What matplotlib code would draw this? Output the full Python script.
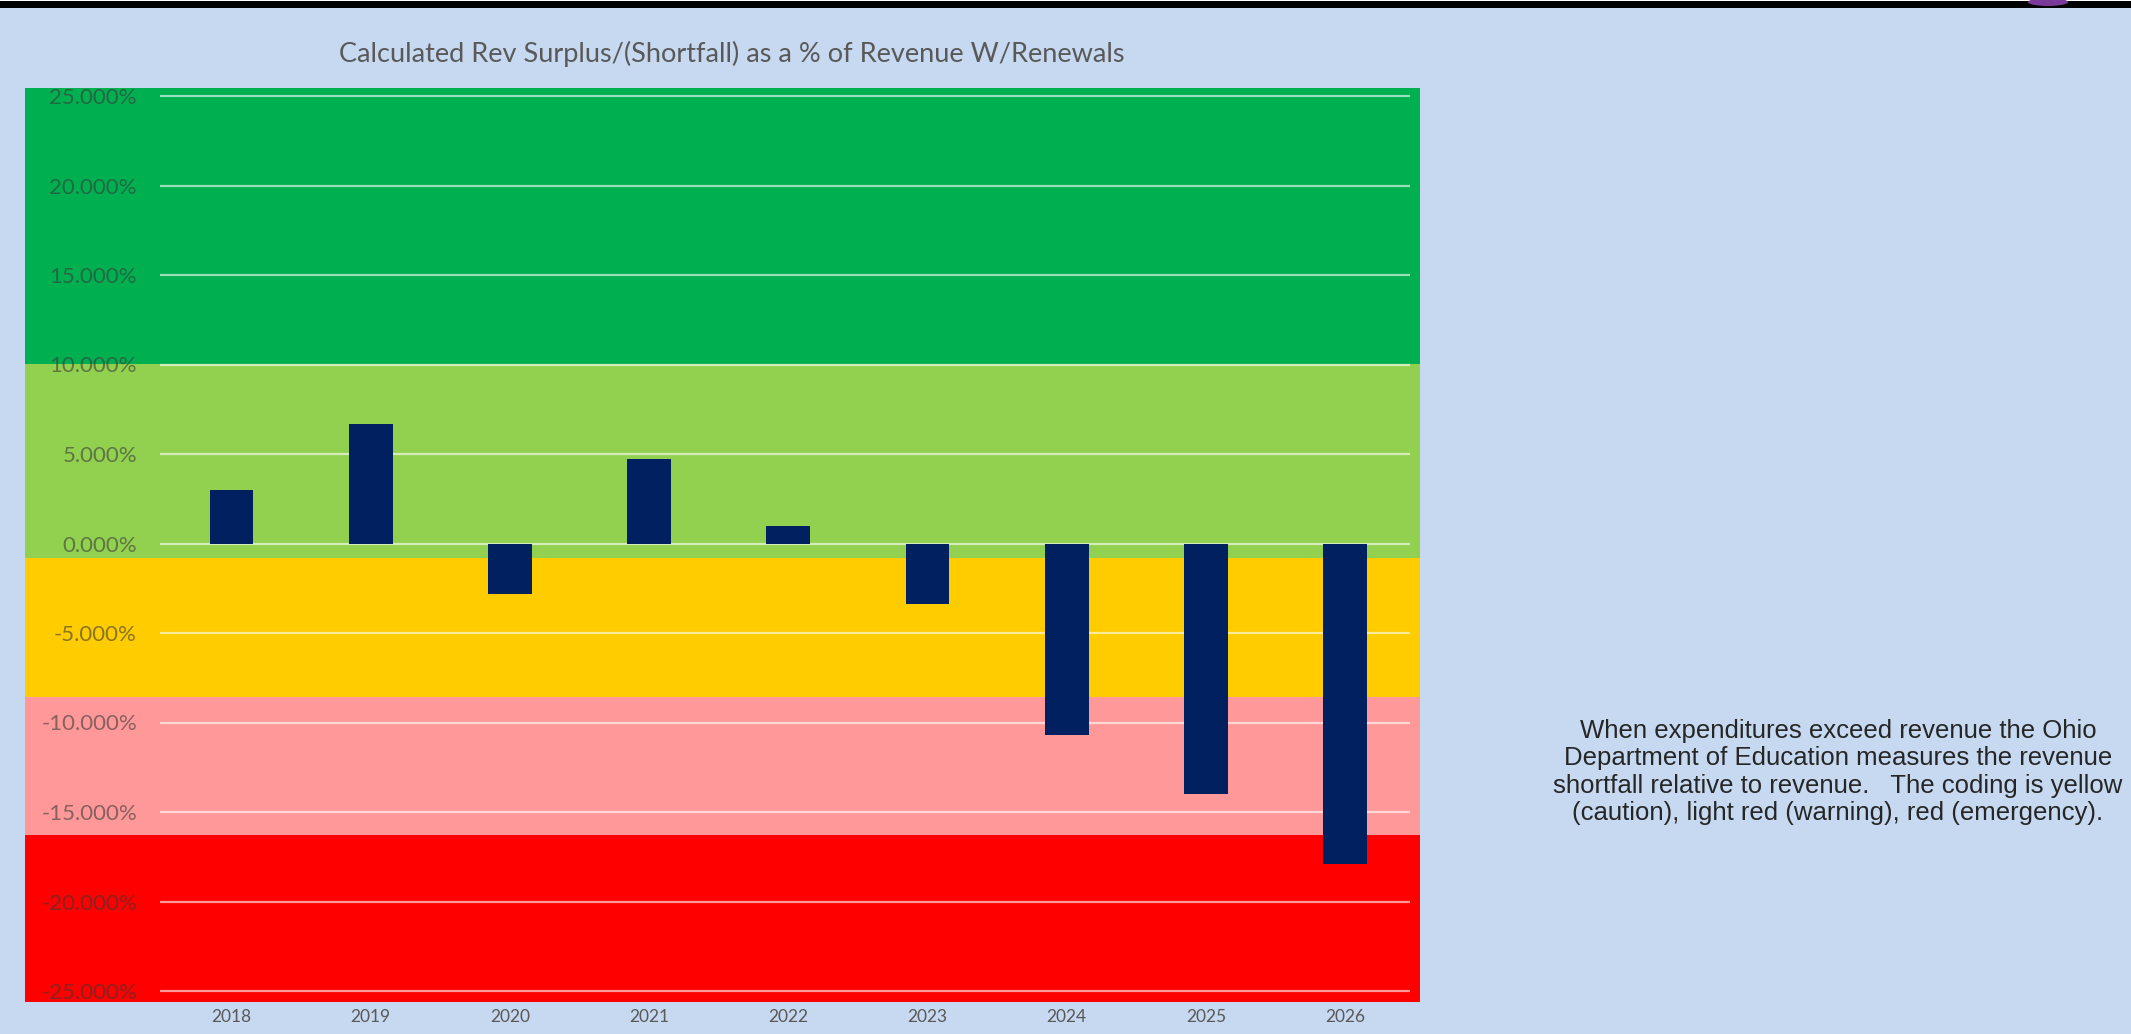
import matplotlib
matplotlib.use("Agg")
import matplotlib.pyplot as plt
import matplotlib.patches as patches

# data
years = ["2018", "2019", "2020", "2021", "2022", "2023", "2024", "2025", "2026"]
surplus_pct = [3.0, 6.7, -2.8, 4.7, 0.95, -3.4, -10.7, -14.0, -17.9]

# colour bands (upper, lower bounds in %)
band_tops = [30, 10, -0.8, -8.6, -16.3]
band_bottoms = [10, -0.8, -8.6, -16.3, -30]
band_colors = ["#00b050", "#92d050", "#ffcc00", "#ff9999", "#ff0000"]

y_ticks = [25, 20, 15, 10, 5, 0, -5, -10, -15, -20, -25]

title = "Calculated Rev Surplus/(Shortfall) as a % of Revenue W/Renewals"
note = ("When expenditures exceed revenue the Ohio\n"
        "Department of Education measures the revenue\n"
        "shortfall relative to revenue.   The coding is yellow\n"
        "(caution), light red (warning), red (emergency).")

W, H = 2131, 1034
bg = "#c6d9f0"

fig = plt.figure(figsize=(W / 100, H / 100), dpi=100)
fig.patch.set_facecolor(bg)

# panel placement in pixels
left, right, top, bottom = 25, 1420, 88, 1002
ax = fig.add_axes([left / W, 1 - bottom / H, (right - left) / W, (bottom - top) / H])

# y: 0% at pixel 543.5, 17.9 px per percent
zero_px, px_per = 543.5, 17.9
ax.set_ylim(-(bottom - zero_px) / px_per, (zero_px - top) / px_per)
# x: first bar centre at 231.5, 139.2 px per category
x0, step = 231.5, 139.2
ax.set_xlim((left - x0) / step, (right - x0) / step)

for hi, lo, c in zip(band_tops, band_bottoms, band_colors):
    ax.axhspan(lo, hi, color=c, lw=0, zorder=0)

ax.hlines(y_ticks, (160 - x0) / step, (1410 - x0) / step,
          colors="white", alpha=0.6, lw=1.6, zorder=1)

xs = list(range(len(years)))
ax.bar(xs, surplus_pct, width=0.316, color="#002060", zorder=2)

ax.set_yticks(y_ticks)
ax.set_yticklabels([f"{v:.3f}%" for v in y_ticks])
ax.tick_params(axis="y", length=0, pad=-(137 - left) / 1.389,
               labelsize=16, labelcolor="#3a3a3a")
for lab in ax.get_yticklabels():
    lab.set_alpha(0.6)
    lab.set_fontfamily("Lato")

ax.set_xticks(xs)
ax.set_xticklabels(years)
ax.tick_params(axis="x", length=0, pad=5, labelsize=12.5, labelcolor="#595959")
for lab in ax.get_xticklabels():
    lab.set_fontfamily("Lato")

for s in ax.spines.values():
    s.set_visible(False)

fig.text(732 / W, 1 - 54 / H, title, ha="center", va="center",
         fontsize=19.5, color="#595959", family="Lato")

fig.text(1838 / W, 1 - 772 / H, note, ha="center", va="center",
         fontsize=18.5, linespacing=1.17, color="#262626", family="Liberation Sans")

# black rule along the top edge, with a scrap of the logo above it
fig.add_artist(patches.Rectangle((0, 1 - 8 / H), 1, 7 / H, transform=fig.transFigure,
                                 color="black", lw=0))
fig.add_artist(patches.Rectangle((0, 1 - 1 / H), 1, 1 / H, transform=fig.transFigure,
                                 color="white", lw=0))
fig.add_artist(patches.Ellipse((2048 / W, 1 - 2 / H), 40 / W, 8 / H,
                               transform=fig.transFigure, color="#7a3a9a", lw=0))

fig.savefig("out.png", dpi=100, facecolor=bg)
